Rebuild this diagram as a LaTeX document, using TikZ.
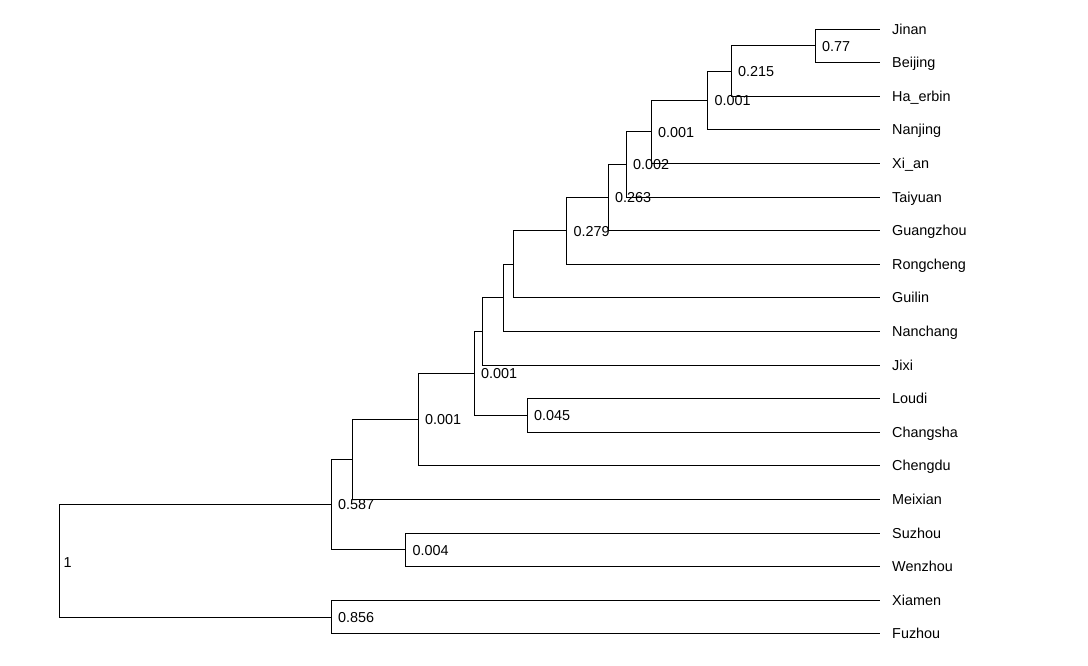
\documentclass[tikz,border=0pt]{standalone}
\usepackage{fontspec}
\setmainfont{Liberation Sans}
\begin{document}
\begin{tikzpicture}[x=1pt,y=-1pt,
  branch/.style={line width=1pt,black},
  leaflabel/.style={anchor=base west,inner sep=0pt,xshift=12pt,yshift=-5pt,font=\fontsize{14.4}{17}\selectfont},
  nodelabel/.style={anchor=base west,inner sep=0pt,xshift=7pt,yshift=-5.2pt,font=\fontsize{14.4}{17}\selectfont}]
\useasboundingbox (0,0) rectangle (1088,665);
% leaf tips
\foreach \nm [count=\i from 0] in {Jinan,Beijing,Ha_erbin,Nanjing,Xi_an,Taiyuan,Guangzhou,Rongcheng,Guilin,Nanchang,Jixi,Loudi,Changsha,Chengdu,Meixian,Suzhou,Wenzhou,Xiamen,Fuzhou}{
  \coordinate (t\i) at (880,{29+33.6*\i});
  \node[leaflabel] (l\i) at (t\i) {\detokenize\expandafter{\nm}};
}
% internal nodes
\coordinate (n1) at (815,{(29+62.6)/2});
\coordinate (n2) at (731,{(45.8+96.2)/2});
\coordinate (n3) at (707.5,{(71+129.8)/2});
\coordinate (n4) at (651,{(100.4+163.4)/2});
\coordinate (n5) at (626,{(131.9+197)/2});
\coordinate (n6) at (608,{(164.45+230.6)/2});
\coordinate (n7) at (566.5,{(197.5+264.2)/2});
\coordinate (n8) at (513.5,{(230.85+297.8)/2});
\coordinate (n9) at (503,{(264.3+331.4)/2});
\coordinate (n10) at (482,{(297.85+365)/2});
\coordinate (n11) at (527,{(398.6+432.2)/2});
\coordinate (n12) at (474,{(331.4+415.4)/2});
\coordinate (n13) at (418,{(373.4+465.8)/2});
\coordinate (n14) at (352,{(419.6+499.4)/2});
\coordinate (n15) at (405.5,{(533+566.6)/2});
\coordinate (n16) at (331,{(459.5+549.8)/2});
\coordinate (n17) at (331,{(600.2+633.8)/2});
\coordinate (root) at (59.5,{(504.65+617)/2});
% branches
\draw[branch] (n1) |- (t0);  \draw[branch] (n1) |- (t1);
\draw[branch] (n2) |- (n1);  \draw[branch] (n2) |- (t2);
\draw[branch] (n3) |- (n2);  \draw[branch] (n3) |- (t3);
\draw[branch] (n4) |- (n3);  \draw[branch] (n4) |- (t4);
\draw[branch] (n5) |- (n4);  \draw[branch] (n5) |- (t5);
\draw[branch] (n6) |- (n5);  \draw[branch] (n6) |- (t6);
\draw[branch] (n7) |- (n6);  \draw[branch] (n7) |- (t7);
\draw[branch] (n8) |- (n7);  \draw[branch] (n8) |- (t8);
\draw[branch] (n9) |- (n8);  \draw[branch] (n9) |- (t9);
\draw[branch] (n10) |- (n9); \draw[branch] (n10) |- (t10);
\draw[branch] (n11) |- (t11); \draw[branch] (n11) |- (t12);
\draw[branch] (n12) |- (n10); \draw[branch] (n12) |- (n11);
\draw[branch] (n13) |- (n12); \draw[branch] (n13) |- (t13);
\draw[branch] (n14) |- (n13); \draw[branch] (n14) |- (t14);
\draw[branch] (n15) |- (t15); \draw[branch] (n15) |- (t16);
\draw[branch] (n16) |- (n14); \draw[branch] (n16) |- (n15);
\draw[branch] (n17) |- (t17); \draw[branch] (n17) |- (t18);
\draw[branch] (root) |- (n16); \draw[branch] (root) |- (n17);
% node labels
\node[nodelabel] (p1) at (n1) {0.77};
\node[nodelabel] (p2) at (n2) {0.215};
\node[nodelabel] (p3) at (n3) {0.001};
\node[nodelabel] (p4) at (n4) {0.001};
\node[nodelabel] (p5) at (n5) {0.002};
\node[nodelabel] (p6) at (n6) {0.263};
\node[nodelabel] (p7) at (n7) {0.279};
\node[nodelabel] (p11) at (n11) {0.045};
\node[nodelabel] (p12) at (n12) {0.001};
\node[nodelabel] (p13) at (n13) {0.001};
\node[nodelabel] (p15) at (n15) {0.004};
\node[nodelabel] (p16) at (n16) {0.587};
\node[nodelabel] (p17) at (n17) {0.856};
\node[nodelabel,xshift=-3pt,yshift=-1pt] (proot) at (root) {1};
\end{tikzpicture}
\end{document}
